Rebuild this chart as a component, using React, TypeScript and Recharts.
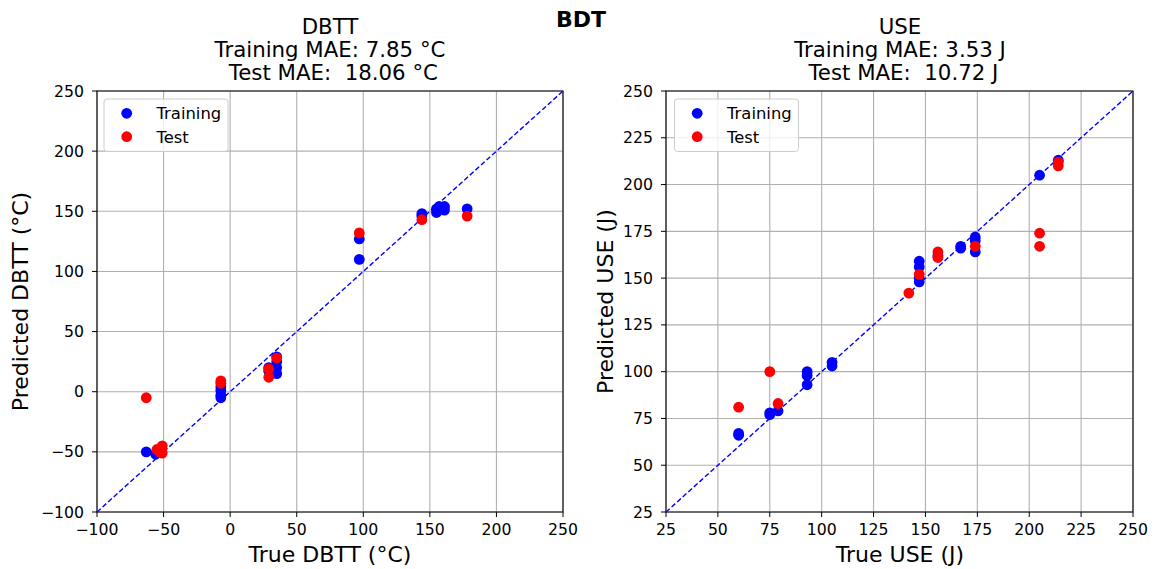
import React from 'react';
import {
  ScatterChart,
  Scatter,
  XAxis,
  YAxis,
  CartesianGrid,
  ReferenceLine,
  ReferenceArea,
} from 'recharts';

// DBTT (°C): true vs predicted
const dbttTrainTrue = [-63, -56, -55, -7, -7, -7, -7, 29, 29, 35, 35, 35, 35, 97, 97, 144, 144, 155, 155, 157, 161, 161, 178];
const dbttTrainPred = [-50, -52, -50, 4, 1, -3, -5, 20, 17, 29, 25, 20, 15, 127, 110, 148, 146, 152, 149, 154, 154, 151, 152];
const dbttTestTrue = [-63, -55, -53, -51, -51, -7, -7, 29, 29, 35, 97, 144, 178];
const dbttTestPred = [-5, -48, -50, -45, -51, 9, 7, 19, 12, 28, 132, 143, 146];

// USE (J): true vs predicted
const useTrainTrue = [60, 60, 75, 75, 79, 93, 93, 93, 105, 105, 147, 147, 147, 147, 156, 167, 167, 174, 174, 174, 205, 214];
const useTrainPred = [67, 66, 78, 77, 79, 100, 98, 93, 105, 103, 159, 156, 148, 150, 162, 166, 167, 172, 170, 164, 205, 213];
const useTestTrue = [60, 75, 79, 142, 147, 156, 156, 174, 205, 205, 214, 214];
const useTestPred = [81, 100, 83, 142, 152, 164, 161, 167, 174, 167, 212, 210];

const dbttTicks = [-100, -50, 0, 50, 100, 150, 200, 250];
const useTicks = [25, 50, 75, 100, 125, 150, 175, 200, 225, 250];

const dbttTitle = ['DBTT', 'Training MAE: 7.85 °C', ' Test MAE:  18.06 °C'];
const useTitle = ['USE', 'Training MAE: 3.53 J', ' Test MAE:  10.72 J'];
const suptitle = 'BDT';
const legendLabels = ['Training', 'Test'];

const toPoints = (xs: number[], ys: number[]) => xs.map((x, i) => ({ x, y: ys[i] }));

const FONT = 'DejaVu Sans';
const BLUE = '#0000ff';
const RED = '#ff0000';
const H = 569;

const fmt = (v: number) => String(v).replace('-', '\u2212');

const dot = (color: string) => (p: any) => (
  <circle cx={p.cx} cy={p.cy} r={5.4} fill={color} stroke="none" />
);

interface PanelProps {
  left: number;
  width: number;
  yAxisWidth: number;
  marginRight: number;
  ticks: number[];
  train: { x: number; y: number }[];
  test: { x: number; y: number }[];
}

function Panel({ left, width, yAxisWidth, marginRight, ticks, train, test }: PanelProps) {
  const lo = ticks[0];
  const hi = ticks[ticks.length - 1];
  const tickStyle = { fill: '#000', fontSize: 15.7, fontFamily: FONT };
  return (
    <div style={{ position: 'absolute', left, top: 0 }}>
      <ScatterChart
        width={width}
        height={H}
        margin={{ top: 91, right: marginRight, bottom: 0, left: 0 }}
      >
        <CartesianGrid stroke="#b0b0b0" strokeWidth={1.1} />
        <XAxis
          type="number"
          dataKey="x"
          domain={[lo, hi]}
          ticks={ticks}
          interval={0}
          height={57}
          tickFormatter={fmt}
          tick={tickStyle}
          tickSize={5}
          tickMargin={7}
          tickLine={{ stroke: '#000' }}
          axisLine={false}
          allowDataOverflow
        />
        <YAxis
          type="number"
          dataKey="y"
          domain={[lo, hi]}
          ticks={ticks}
          interval={0}
          width={yAxisWidth}
          tickFormatter={fmt}
          tick={tickStyle}
          tickSize={5}
          tickMargin={8}
          tickLine={{ stroke: '#000' }}
          axisLine={false}
          allowDataOverflow
        />
        <ReferenceLine
          segment={[
            { x: lo, y: lo },
            { x: hi, y: hi },
          ]}
          stroke={BLUE}
          strokeWidth={1.4}
          strokeDasharray="5 2.5"
        />
        <Scatter data={train} fill={BLUE} shape={dot(BLUE)} isAnimationActive={false} />
        <Scatter data={test} fill={RED} shape={dot(RED)} isAnimationActive={false} />
        <ReferenceArea x1={lo} x2={hi} y1={lo} y2={hi} fill="none" stroke="#000" strokeWidth={1.1} fillOpacity={0} />
      </ScatterChart>
    </div>
  );
}

function LegendBox({ x, y }: { x: number; y: number }) {
  return (
    <g>
      <rect x={x} y={y} width={124} height={52.5} rx={3} fill="#fff" fillOpacity={0.8} stroke="#cccccc" strokeWidth={1} />
      {legendLabels.map((label, i) => (
        <g key={label}>
          <circle cx={x + 22.7} cy={y + 14.3 + i * 23.4} r={5.4} fill={i === 0 ? BLUE : RED} />
          <text x={x + 52.5} y={y + 14.3 + i * 23.4 + 5.8} fontSize={16.4} fontFamily={FONT} fill="#000">
            {label}
          </text>
        </g>
      ))}
    </g>
  );
}

function Titles({ cx, lines }: { cx: number; lines: string[] }) {
  return (
    <>
      {lines.map((t, i) => (
        <text
          key={i}
          x={cx}
          y={34 + i * 23}
          textAnchor="middle"
          fontSize={21.3}
          fontFamily={FONT}
          fill="#000"
          style={{ whiteSpace: 'pre' }}
        >
          {t}
        </text>
      ))}
    </>
  );
}

export default function App() {
  return (
    <div style={{ position: 'absolute', left: 0, top: 0, width: 1159, height: H, background: '#fff' }}>
      <Panel
        left={0}
        width={580}
        yAxisWidth={97}
        marginRight={17}
        ticks={dbttTicks}
        train={toPoints(dbttTrainTrue, dbttTrainPred)}
        test={toPoints(dbttTestTrue, dbttTestPred)}
      />
      <Panel
        left={580}
        width={579}
        yAxisWidth={86}
        marginRight={26}
        ticks={useTicks}
        train={toPoints(useTrainTrue, useTrainPred)}
        test={toPoints(useTestTrue, useTestPred)}
      />
      <svg
        width={1159}
        height={H}
        style={{ position: 'absolute', left: 0, top: 0, pointerEvents: 'none' }}
      >
        <text x={581} y={27} textAnchor="middle" fontSize={22} fontWeight="bold" fontFamily={FONT} fill="#000">
          {suptitle}
        </text>
        <Titles cx={330} lines={dbttTitle} />
        <Titles cx={900} lines={useTitle} />
        <text x={330} y={561.5} textAnchor="middle" fontSize={22} fontFamily={FONT} fill="#000">
          True DBTT (°C)
        </text>
        <text x={900} y={561.5} textAnchor="middle" fontSize={22} fontFamily={FONT} fill="#000">
          True USE (J)
        </text>
        <text
          transform="translate(28,301.5) rotate(-90)"
          textAnchor="middle"
          fontSize={22}
          fontFamily={FONT}
          fill="#000"
        >
          Predicted DBTT (°C)
        </text>
        <text
          transform="translate(613,301.5) rotate(-90)"
          textAnchor="middle"
          fontSize={22}
          fontFamily={FONT}
          fill="#000"
        >
          Predicted USE (J)
        </text>
        <LegendBox x={104} y={99} />
        <LegendBox x={674.5} y={99} />
      </svg>
    </div>
  );
}
